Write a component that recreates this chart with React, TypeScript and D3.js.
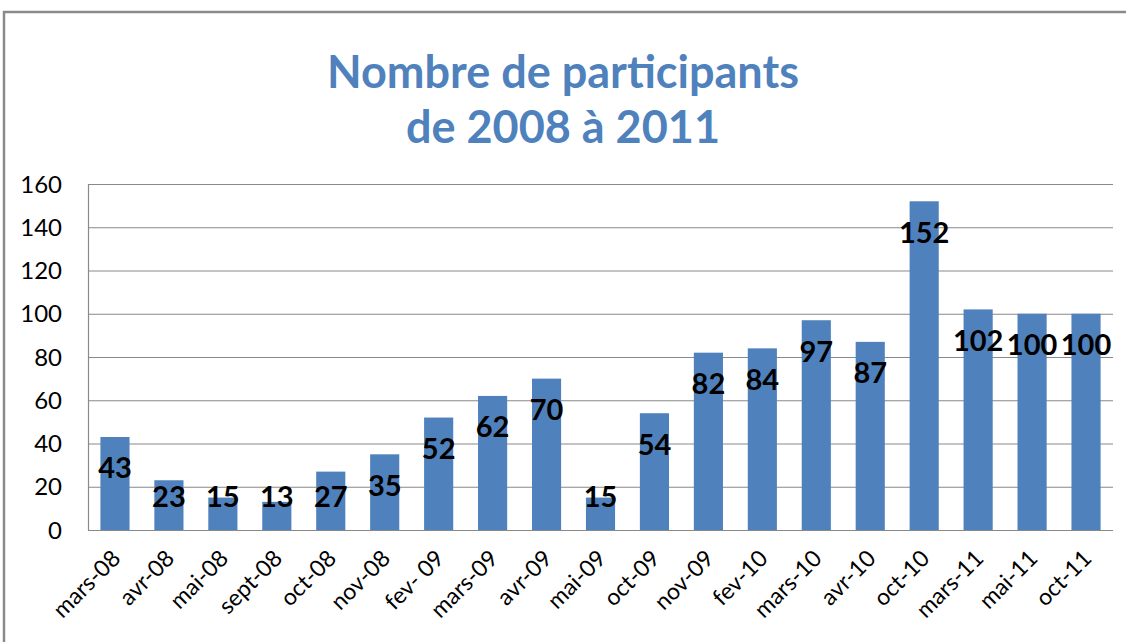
import React, { useEffect, useRef } from 'react';
import * as d3 from 'd3';

const categories = [
  'mars-08', 'avr-08', 'mai-08', 'sept-08', 'oct-08', 'nov-08', 'fev- 09', 'mars-09', 'avr-09',
  'mai-09', 'oct-09', 'nov-09', 'fev-10', 'mars-10', 'avr-10', 'oct-10', 'mars-11', 'mai-11', 'oct-11',
];
const participants = [43, 23, 15, 13, 27, 35, 52, 62, 70, 15, 54, 82, 84, 97, 87, 152, 102, 100, 100];
const yTicks = [0, 20, 40, 60, 80, 100, 120, 140, 160];
const titleLines = ['Nombre de participants', 'de 2008 à 2011'];

const WIDTH = 1126;
const HEIGHT = 642;
const MARGIN = { TOP: 184, BOTTOM: 112, LEFT: 88, RIGHT: 13 };
const BLUE = '#4F81BD';
const GRID = '#898989';
const FONT = 'Lato, "Open Sans", sans-serif';

export default function App(): JSX.Element {
  const svgRef = useRef<SVGSVGElement>(null);

  useEffect(() => {
    const svg = d3.select(svgRef.current);
    svg.selectAll('*').remove();

    const plotW = WIDTH - MARGIN.LEFT - MARGIN.RIGHT;
    const plotH = HEIGHT - MARGIN.TOP - MARGIN.BOTTOM;

    const x = d3.scaleBand<string>()
      .domain(categories)
      .range([0, plotW])
      .paddingInner(0.46)
      .paddingOuter(0.23);
    const y = d3.scaleLinear().domain([0, 160]).range([plotH, 0]);

    // chart frame (cropped on right and bottom)
    svg.append('path')
      .attr('d', `M4,${HEIGHT} L4,12 L${WIDTH},12`)
      .attr('fill', 'none')
      .attr('stroke', '#8a8a8a')
      .attr('stroke-width', 2.5);

    // title
    svg.append('g')
      .selectAll('text')
      .data(titleLines)
      .join('text')
      .attr('x', 563)
      .attr('y', (_, i) => 88 + i * 55)
      .attr('text-anchor', 'middle')
      .attr('font-family', FONT)
      .attr('font-weight', 'bold')
      .attr('font-size', 45)
      .attr('fill', BLUE)
      .text((d) => d);

    const g = svg.append('g').attr('transform', `translate(${MARGIN.LEFT}, ${MARGIN.TOP})`);

    // gridlines
    g.append('g')
      .selectAll('line')
      .data(yTicks)
      .join('line')
      .attr('x1', 0)
      .attr('x2', plotW)
      .attr('y1', (d) => y(d) + 0.5)
      .attr('y2', (d) => y(d) + 0.5)
      .attr('stroke', GRID)
      .attr('stroke-width', 1.2);

    // left axis line
    g.append('line')
      .attr('x1', 0.5).attr('x2', 0.5)
      .attr('y1', 0).attr('y2', plotH)
      .attr('stroke', GRID)
      .attr('stroke-width', 1.2);

    // y labels
    g.append('g')
      .selectAll('text')
      .data(yTicks)
      .join('text')
      .attr('x', -26)
      .attr('y', (d) => y(d))
      .attr('dy', '0.36em')
      .attr('text-anchor', 'end')
      .attr('font-family', FONT)
      .attr('font-size', 24)
      .attr('fill', '#000')
      .text((d) => d);

    // bars
    g.append('g')
      .selectAll('rect')
      .data(participants)
      .join('rect')
      .attr('x', (_, i) => x(categories[i]) as number)
      .attr('y', (d) => y(d))
      .attr('width', x.bandwidth())
      .attr('height', (d) => plotH - y(d))
      .attr('fill', BLUE);

    // data labels (inside end, kept above baseline)
    g.append('g')
      .selectAll('text')
      .data(participants)
      .join('text')
      .attr('x', (_, i) => (x(categories[i]) as number) + x.bandwidth() / 2)
      .attr('y', (d) => Math.min(y(d) + 31, plotH - 33))
      .attr('dy', '0.36em')
      .attr('text-anchor', 'middle')
      .attr('font-family', FONT)
      .attr('font-weight', 'bold')
      .attr('font-size', 29)
      .attr('fill', '#000')
      .text((d) => d);

    // x labels rotated
    g.append('g')
      .selectAll('text')
      .data(categories)
      .join('text')
      .attr('transform', (d) => {
        const cx = (x(d) as number) + x.bandwidth() / 2 + 1;
        return `translate(${cx}, ${plotH + 24}) rotate(-45)`;
      })
      .attr('text-anchor', 'end')
      .attr('dy', '0.36em')
      .attr('font-family', FONT)
      .attr('font-size', 23)
      .attr('fill', '#000')
      .text((d) => d);
  }, []);

  return (
    <svg
      ref={svgRef}
      width={WIDTH}
      height={HEIGHT}
      style={{ position: 'absolute', left: 0, top: 0, background: '#fff' }}
    />
  );
}
